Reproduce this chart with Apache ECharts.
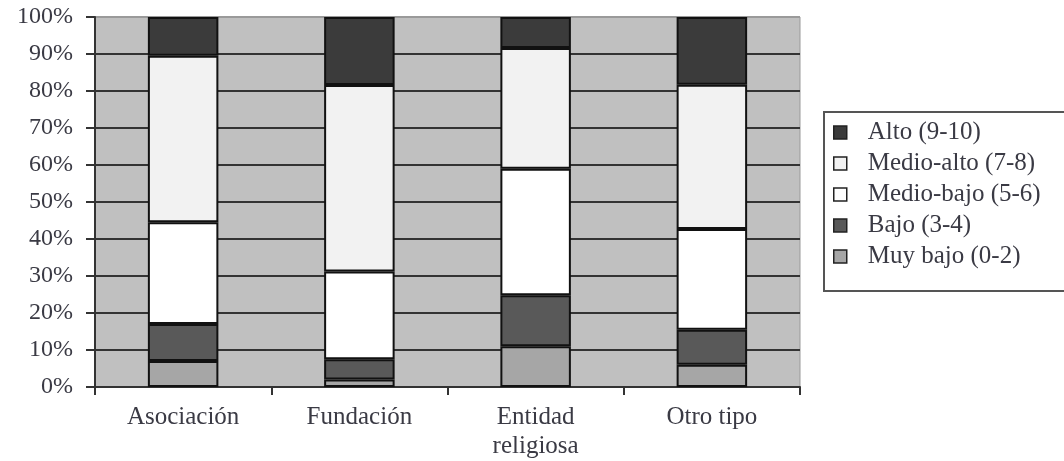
<!DOCTYPE html>
<html>
<head>
<meta charset="utf-8">
<script src="https://cdn.jsdelivr.net/npm/echarts@6.0.0/dist/echarts.min.js"></script>
<style>
  html, body { margin: 0; padding: 0; background: #fff; }
  #chart { width: 1064px; height: 461px; }
</style>
</head>
<body>
<div id="chart"></div>
<script>
// categorías del eje x
const categories = ['Asociación', 'Fundación', 'Entidad\nreligiosa', 'Otro tipo'];
const yTicks = [0, 10, 20, 30, 40, 50, 60, 70, 80, 90, 100];

// porcentajes por nivel (de abajo a arriba)
const muyBajo = [7, 2, 11, 6];
const bajo = [10, 5.5, 13.8, 9.5];
const medioBajo = [27.5, 23.7, 34.2, 27.2];
const medioAlto = [45, 50.4, 32.6, 39];
const alto = [10.5, 18.4, 8.4, 18.3];

const seriesNames = ['Muy bajo (0-2)', 'Bajo (3-4)', 'Medio-bajo (5-6)', 'Medio-alto (7-8)', 'Alto (9-10)'];
const seriesData = [muyBajo, bajo, medioBajo, medioAlto, alto];
const seriesColors = ['#a6a6a6', '#595959', '#ffffff', '#f2f2f2', '#3b3b3b'];

const textColor = '#3a3a44';
const font = '"Liberation Serif", "DejaVu Serif", serif';

const chart = echarts.init(document.getElementById('chart'));

const option = {
  animation: false,
  grid: {
    left: 95,
    right: 264,
    top: 17,
    bottom: 74,
    show: true,
    backgroundColor: '#c0c0c0',
    borderColor: '#9a9a9a',
    borderWidth: 1,
  },
  legend: {
    orient: 'vertical',
    left: 824,
    top: 112,
    data: seriesNames.slice().reverse(),
    icon: 'rect',
    itemWidth: 13,
    itemHeight: 13,
    itemGap: 6,
    padding: [8, 60, 22, 9],
    borderColor: '#555',
    borderWidth: 2,
    itemStyle: {
      borderColor: '#222',
      borderWidth: 1.5,
    },
    textStyle: {
      color: textColor,
      fontFamily: font,
      fontSize: 25,
      lineHeight: 24,
      padding: [0, 0, 0, 16],
    },
  },
  xAxis: {
    type: 'category',
    data: categories,
    axisLine: { lineStyle: { color: '#333', width: 2 } },
    axisTick: { show: true, length: 8, lineStyle: { color: '#333', width: 2 } },
    axisLabel: {
      color: textColor,
      fontFamily: font,
      fontSize: 25,
      lineHeight: 29,
      margin: 16,
    },
  },
  yAxis: {
    type: 'value',
    min: yTicks[0],
    max: yTicks[yTicks.length - 1],
    interval: 10,
    axisLine: { show: true, lineStyle: { color: '#333', width: 2 } },
    axisTick: { show: true, length: 9, lineStyle: { color: '#333', width: 2 } },
    axisLabel: {
      color: textColor,
      fontFamily: font,
      fontSize: 24,
      margin: 22,
      formatter: '{value}%',
    },
    splitLine: {
      show: true,
      lineStyle: {
        // la línea del 100% es el borde claro del área
        color: yTicks.map((t, i) => (i === yTicks.length - 1 ? '#9a9a9a' : '#333')),
        width: 2,
      },
    },
  },
  series: seriesNames.map((name, i) => ({
    name: name,
    type: 'bar',
    stack: 'total',
    barWidth: '40%',
    data: seriesData[i],
    itemStyle: {
      color: seriesColors[i],
      borderColor: '#111',
      borderWidth: 2,
    },
  })),
};

chart.setOption(option);
</script>
</body>
</html>
